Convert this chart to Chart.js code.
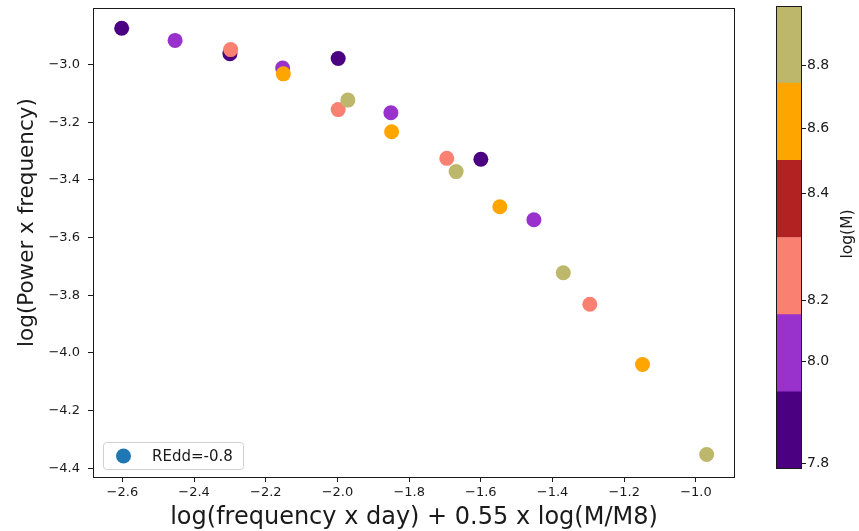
<!DOCTYPE html>
<html><head><meta charset="utf-8">
<script src="https://cdn.jsdelivr.net/npm/chart.js@4.4.1/dist/chart.umd.min.js"></script>
<style>
html,body{margin:0;padding:0;background:#fff;}
#wrap{position:relative;width:859px;height:531px;overflow:hidden;background:#fff;}
#main{position:absolute;left:0;top:0;}
#cbar{position:absolute;left:740px;top:0;}
</style></head><body>
<div id="wrap"><canvas id="main" width="859" height="531"></canvas><canvas id="cbar" width="119" height="531"></canvas></div>
<script>
// ---- data ----
const xVals = [-2.602, -2.300, -1.998, -1.600,
               -2.453, -2.153, -1.851, -1.452,
               -2.298, -1.998, -1.695, -1.296,
               -2.151, -1.849, -1.547, -1.149,
               -1.971, -1.669, -1.370, -0.970];
const yVals = [-2.874, -2.962, -2.979, -3.328,
               -2.916, -3.012, -3.167, -3.538,
               -2.948, -3.156, -3.325, -3.831,
               -3.032, -3.233, -3.493, -4.040,
               -3.123, -3.371, -3.722, -4.352];
const logM  = [7.8, 7.8, 7.8, 7.8,
               8.0, 8.0, 8.0, 8.0,
               8.2, 8.2, 8.2, 8.2,
               8.6, 8.6, 8.6, 8.6,
               8.8, 8.8, 8.8, 8.8];
const seriesLabel = 'REdd=-0.8';
const xTitle = 'log(frequency x day) + 0.55 x log(M/M8)';
const yTitle = 'log(Power x frequency)';
const cbTitle = 'log(M)';
const xTicks = [-2.6, -2.4, -2.2, -2.0, -1.8, -1.6, -1.4, -1.2, -1.0];
const yTicks = [-4.4, -4.2, -4.0, -3.8, -3.6, -3.4, -3.2, -3.0];
const cbColors = ['#4B0082', '#9932CC', '#FA8072', '#B22222', '#FFA500', '#BDB76B'];
const cbTickVals = [7.8, 8.0, 8.2, 8.4, 8.6, 8.8];
const cbTickLabels = ['7.8', '8.0', '8.2', '8.4', '8.6', '8.8'];
const cbTickPos = [0.07, 1.39, 2.19, 3.57, 4.41, 5.23];

const FONT = "'DejaVu Sans', sans-serif";
const INK = '#1a1a1a';

function massPos(m) {
  for (let i = 0; i < cbTickVals.length - 1; i++) {
    if (m <= cbTickVals[i + 1]) {
      const t = (m - cbTickVals[i]) / (cbTickVals[i + 1] - cbTickVals[i]);
      return cbTickPos[i] + t * (cbTickPos[i + 1] - cbTickPos[i]);
    }
  }
  return cbTickPos[cbTickPos.length - 1];
}
function colorFor(m) {
  const idx = Math.max(0, Math.min(cbColors.length - 1, Math.floor(massPos(m))));
  return cbColors[idx];
}
function fmt(v) {
  return (v < 0 ? '\u2212' : '') + Math.abs(v).toFixed(1);
}
function noPad(s) { s.paddingTop = 0; s.paddingBottom = 0; s.paddingLeft = 0; s.paddingRight = 0; }

const framePlugin = {
  id: 'frame',
  afterDatasetsDraw(chart) {
    const {ctx, chartArea: a} = chart;
    ctx.save();
    ctx.strokeStyle = INK;
    ctx.lineWidth = 1;
    ctx.strokeRect(Math.round(a.left) + 0.5, Math.round(a.top) + 0.5,
                   Math.round(a.right - a.left) - 1, Math.round(a.bottom - a.top) - 1);
    ctx.restore();
  }
};

const legendPlugin = {
  id: 'boxLegend',
  afterDraw(chart) {
    const {ctx, chartArea: a} = chart;
    const x = a.left + 10, y = a.bottom - 35, w = 140, h = 27;
    ctx.save();
    ctx.fillStyle = 'rgba(255,255,255,0.8)';
    ctx.strokeStyle = '#d0d0d0';
    ctx.lineWidth = 1;
    ctx.beginPath();
    ctx.roundRect(x + 0.5, y + 0.5, w, h, 3);
    ctx.fill();
    ctx.stroke();
    ctx.fillStyle = '#1f77b4';
    ctx.beginPath();
    ctx.arc(x + 20.5, y + 14, 7.5, 0, Math.PI * 2);
    ctx.fill();
    ctx.fillStyle = INK;
    ctx.font = '15px ' + FONT;
    ctx.textBaseline = 'alphabetic';
    ctx.textAlign = 'left';
    ctx.fillText(chart.data.datasets[0].label, x + 49, y + 19);
    ctx.restore();
  }
};

const yTitlePlugin = {
  id: 'yTitle',
  afterDraw(chart) {
    const {ctx} = chart;
    ctx.save();
    ctx.translate(33, 222.5);
    ctx.rotate(-Math.PI / 2);
    ctx.fillStyle = INK;
    ctx.font = '21.5px ' + FONT;
    ctx.textAlign = 'center';
    ctx.textBaseline = 'alphabetic';
    ctx.fillText(yTitle, 0, 0);
    ctx.restore();
  }
};

new Chart(document.getElementById('main'), {
  type: 'scatter',
  data: {
    datasets: [{
      label: seriesLabel,
      data: xVals.map((x, i) => ({x: x, y: yVals[i]})),
      backgroundColor: logM.map(colorFor),
      borderWidth: 0,
      pointRadius: 7.5,
      pointHoverRadius: 7.5
    }]
  },
  options: {
    responsive: false,
    animation: false,
    events: [],
    layout: {padding: {left: 0, top: 6, right: 124, bottom: 0}},
    plugins: {legend: {display: false}, tooltip: {enabled: false}},
    scales: {
      x: {
        type: 'linear', min: -2.682, max: -0.891,
        afterBuildTicks: s => { s.ticks = xTicks.map(v => ({value: v})); },
        afterFit: s => { s.height = 54; noPad(s); },
        ticks: {callback: v => fmt(v), font: {family: FONT, size: 13}, color: INK, padding: 3, maxRotation: 0, autoSkip: false},
        grid: {display: true, drawOnChartArea: false, drawTicks: true, tickLength: 5, color: INK},
        border: {display: false},
        title: {display: true, text: xTitle, color: INK,
                font: {family: FONT, size: 24, lineHeight: 1}, padding: {top: 0, bottom: 1.5}}
      },
      y: {
        type: 'linear', min: -4.430, max: -2.802,
        afterBuildTicks: s => { s.ticks = yTicks.map(v => ({value: v})); },
        afterFit: s => { s.width = 93; noPad(s); },
        ticks: {callback: v => fmt(v), font: {family: FONT, size: 13}, color: INK, padding: 8, autoSkip: false},
        grid: {display: true, drawOnChartArea: false, drawTicks: true, tickLength: 5, color: INK},
        border: {display: false},
        title: {display: false}
      }
    }
  },
  plugins: [framePlugin, legendPlugin, yTitlePlugin]
});

const cbLabelPlugin = {
  id: 'cbLabel',
  afterDraw(chart) {
    const {ctx, chartArea: a} = chart;
    ctx.save();
    ctx.translate(112, 234);
    ctx.rotate(-Math.PI / 2);
    ctx.fillStyle = INK;
    ctx.font = '15.5px ' + FONT;
    ctx.textAlign = 'center';
    ctx.textBaseline = 'alphabetic';
    ctx.fillText(cbTitle, 0, 0);
    ctx.restore();
  }
};

new Chart(document.getElementById('cbar'), {
  type: 'bar',
  data: {
    labels: [cbTitle],
    datasets: cbColors.map(c => ({data: [1], backgroundColor: c, borderWidth: 0, barPercentage: 1, categoryPercentage: 1}))
  },
  options: {
    responsive: false,
    animation: false,
    events: [],
    layout: {padding: {left: 36, top: 6, right: 0, bottom: 62}},
    plugins: {legend: {display: false}, tooltip: {enabled: false}},
    scales: {
      x: {stacked: true, display: false, afterFit: s => noPad(s)},
      y: {
        stacked: true, position: 'right', min: 0, max: cbColors.length,
        afterBuildTicks: s => { s.ticks = cbTickPos.map(v => ({value: v})); },
        afterFit: s => { s.width = 57; noPad(s); },
        ticks: {callback: (v, i) => cbTickLabels[i], font: {family: FONT, size: 14}, color: INK, padding: 1, autoSkip: false},
        grid: {display: true, drawOnChartArea: false, drawTicks: true, tickLength: 4, color: INK},
        border: {display: false}
      }
    }
  },
  plugins: [framePlugin, cbLabelPlugin]
});
</script>
</body></html>
